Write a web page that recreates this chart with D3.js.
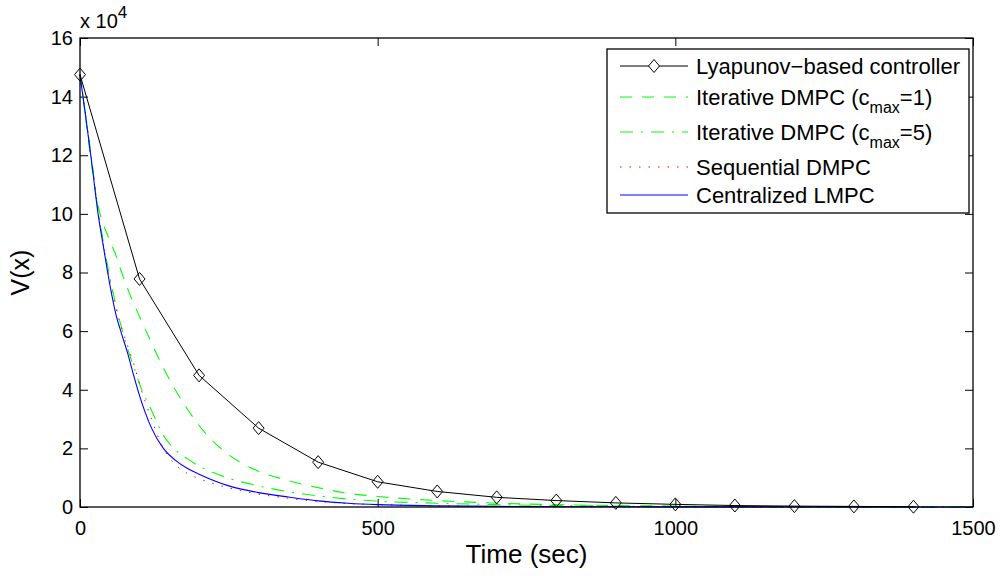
<!DOCTYPE html>
<html lang="en">
<head>
<meta charset="UTF-8">
<title>V(x) vs time</title>
<script src="https://d3js.org/d3.v7.min.js"></script>
<style>
  body { margin: 0; background: #fff; }
  text { font-family: "Liberation Sans", Arial, Helvetica, sans-serif; fill: #000; }
</style>
</head>
<body>
<script>

// Lyapunov-based controller, one sample per 100 s
var tLyap = [0, 100, 200, 300, 400, 500, 600, 700, 800, 900, 1000, 1100, 1200, 1300, 1400];
var vLyap = [147500, 77800, 44900, 26900, 15300, 8600, 5300, 3300, 2200, 1400, 900, 500, 300, 200, 100];

// the four MPC curves, read at these times
var tGrid = [0, 10, 20, 30, 40, 50, 60, 70, 80, 90, 100, 120, 140, 160, 180, 200,
             250, 300, 350, 400, 450, 500, 600, 700, 800, 1000, 1200, 1500];
var vIter1 = [147500, 132000, 116000, 103000, 96000, 91000, 86000, 80000, 74500, 69500, 65000,
              56000, 47500, 40000, 33500, 27800, 17800, 12200, 9000, 6600, 4700, 3600,
              2200, 1300, 800, 300, 100, 0];
var vIter5 = [147500, 133000, 118000, 102000, 89500, 78500, 69000, 61000, 54000, 48000, 42000,
              33000, 24500, 19500, 16500, 14000, 9800, 7200, 5200, 3800, 2700, 2000,
              1300, 800, 500, 200, 100, 0];
var vSeq = [147500, 133000, 117500, 101500, 88500, 77000, 68000, 61000, 55000, 49000, 42000,
            30000, 20000, 14500, 11500, 9700, 6500, 4400, 3000, 1900, 1200, 800,
            400, 200, 100, 50, 20, 0];
var vCent = [147500, 132500, 117000, 100500, 88000, 76000, 66000, 59000, 52500, 45000, 38000,
             27000, 20000, 16000, 13200, 11200, 7200, 4900, 3400, 2100, 1300, 800,
             400, 200, 100, 50, 20, 0];

var xTicks = [0, 500, 1000, 1500];
var yTicks = [0, 20000, 40000, 60000, 80000, 100000, 120000, 140000, 160000];

var legendNames = ["Lyapunov\u2212based controller", "Iterative DMPC (c", "Iterative DMPC (c",
                   "Sequential DMPC", "Centralized LMPC"];
var legendSubs = [null, ["max", "=1)"], ["max", "=5)"], null, null];

var W = 1003, H = 576;
var pLeft = 80, pRight = 973, pTop = 38, pBottom = 507;

var svg = d3.select("body").append("svg")
    .attr("width", W)
    .attr("height", H);

svg.append("rect").attr("width", W).attr("height", H).attr("fill", "#fff");

var x = d3.scaleLinear().domain([0, 1500]).range([pLeft, pRight]);
var y = d3.scaleLinear().domain([0, 160000]).range([pBottom, pTop]);

function fmtY(d) { return d / 10000; }

// axes, ticks pointing inward
var gx = svg.append("g").attr("transform", "translate(0," + pBottom + ")")
    .call(d3.axisBottom(x).tickValues(xTicks).tickSizeInner(-8).tickSizeOuter(0)
        .tickPadding(14).tickFormat(d3.format("d")));
var gxt = svg.append("g").attr("transform", "translate(0," + pTop + ")")
    .call(d3.axisTop(x).tickValues(xTicks).tickSizeInner(-8).tickSizeOuter(0).tickFormat(""));
var gy = svg.append("g").attr("transform", "translate(" + pLeft + ",0)")
    .call(d3.axisLeft(y).tickValues(yTicks).tickSizeInner(-8).tickSizeOuter(0).tickPadding(7).tickFormat(fmtY));
var gyr = svg.append("g").attr("transform", "translate(" + pRight + ",0)")
    .call(d3.axisRight(y).tickValues(yTicks).tickSizeInner(-8).tickSizeOuter(0).tickFormat(""));

[gx, gxt, gy, gyr].forEach(function (g) {
    g.select(".domain").remove();
    g.selectAll(".tick line").attr("stroke", "#000").attr("stroke-width", 1);
    g.selectAll("text").attr("font-size", "20px").attr("font-family", null).attr("fill", "#000");
});

// curves
function lineOf(ts, curve) {
    return d3.line()
        .x(function (d, i) { return x(ts[i]); })
        .y(function (d) { return y(d); })
        .curve(curve);
}

var plot = svg.append("g");

plot.append("path").datum(vIter1)
    .attr("d", lineOf(tGrid, d3.curveMonotoneX))
    .attr("fill", "none").attr("stroke", "#00ff00").attr("stroke-width", 1.1)
    .attr("stroke-dasharray", "12,10");

plot.append("path").datum(vIter5)
    .attr("d", lineOf(tGrid, d3.curveMonotoneX))
    .attr("fill", "none").attr("stroke", "#00ff00").attr("stroke-width", 1.1)
    .attr("stroke-dasharray", "13,8,2,8");

plot.append("path").datum(vSeq)
    .attr("d", lineOf(tGrid, d3.curveMonotoneX))
    .attr("fill", "none").attr("stroke", "#ff0000").attr("stroke-width", 1)
    .attr("stroke-dasharray", "1.5,8");

plot.append("path").datum(vCent)
    .attr("d", lineOf(tGrid, d3.curveMonotoneX))
    .attr("fill", "none").attr("stroke", "#0000ff").attr("stroke-width", 1.1);

plot.append("path").datum(vLyap)
    .attr("d", lineOf(tLyap, d3.curveLinear))
    .attr("fill", "none").attr("stroke", "#000").attr("stroke-width", 1);

function diamond(cx, cy) {
    return "M" + cx + "," + (cy - 6.5) + "L" + (cx + 5.5) + "," + cy +
        "L" + cx + "," + (cy + 6.5) + "L" + (cx - 5.5) + "," + cy + "Z";
}

plot.selectAll(".mk").data(vLyap).enter().append("path")
    .attr("class", "mk")
    .attr("d", function (d, i) { return diamond(x(tLyap[i]), y(d)); })
    .attr("fill", "none").attr("stroke", "#000").attr("stroke-width", 1);

// box
svg.append("rect")
    .attr("x", pLeft).attr("y", pTop)
    .attr("width", pRight - pLeft).attr("height", pBottom - pTop)
    .attr("fill", "none").attr("stroke", "#000").attr("stroke-width", 1.3);

// exponent label
var ex = svg.append("text").attr("x", 80).attr("y", 28).attr("font-size", "20px");
ex.append("tspan").text("x 10");
ex.append("tspan").attr("dy", -10).attr("font-size", "17px").text("4");

// axis labels
svg.append("text")
    .attr("x", (pLeft + pRight) / 2).attr("y", 563)
    .attr("text-anchor", "middle").attr("font-size", "26px")
    .text("Time (sec)");

svg.append("text")
    .attr("transform", "translate(29," + ((pTop + pBottom) / 2) + ") rotate(-90)")
    .attr("text-anchor", "middle").attr("font-size", "25px")
    .text("V(x)");

// legend
var lg = svg.append("g");
lg.append("rect")
    .attr("x", 607).attr("y", 49).attr("width", 362).attr("height", 164)
    .attr("fill", "#fff").attr("stroke", "#000").attr("stroke-width", 1.3);

var rowY = [66, 97, 132, 167, 195];
var styles = [
    { c: "#000", dash: null },
    { c: "#00ff00", dash: "12,10" },
    { c: "#00ff00", dash: "13,8,2,8" },
    { c: "#ff0000", dash: "1.5,8" },
    { c: "#0000ff", dash: null }
];

legendNames.forEach(function (name, i) {
    lg.append("line")
        .attr("x1", 620).attr("x2", 688).attr("y1", rowY[i]).attr("y2", rowY[i])
        .attr("stroke", styles[i].c).attr("stroke-width", 1.1)
        .attr("stroke-dasharray", styles[i].dash);
    var t = lg.append("text")
        .attr("x", 696).attr("y", rowY[i] + 8).attr("font-size", "22px");
    t.append("tspan").text(name);
    if (legendSubs[i]) {
        t.append("tspan").attr("dy", 8).attr("font-size", "16px").text(legendSubs[i][0]);
        t.append("tspan").attr("dy", -8).text(legendSubs[i][1]);
    }
});
lg.append("path").attr("d", diamond(654, rowY[0]))
    .attr("fill", "#fff").attr("stroke", "#000");

</script>
</body>
</html>
